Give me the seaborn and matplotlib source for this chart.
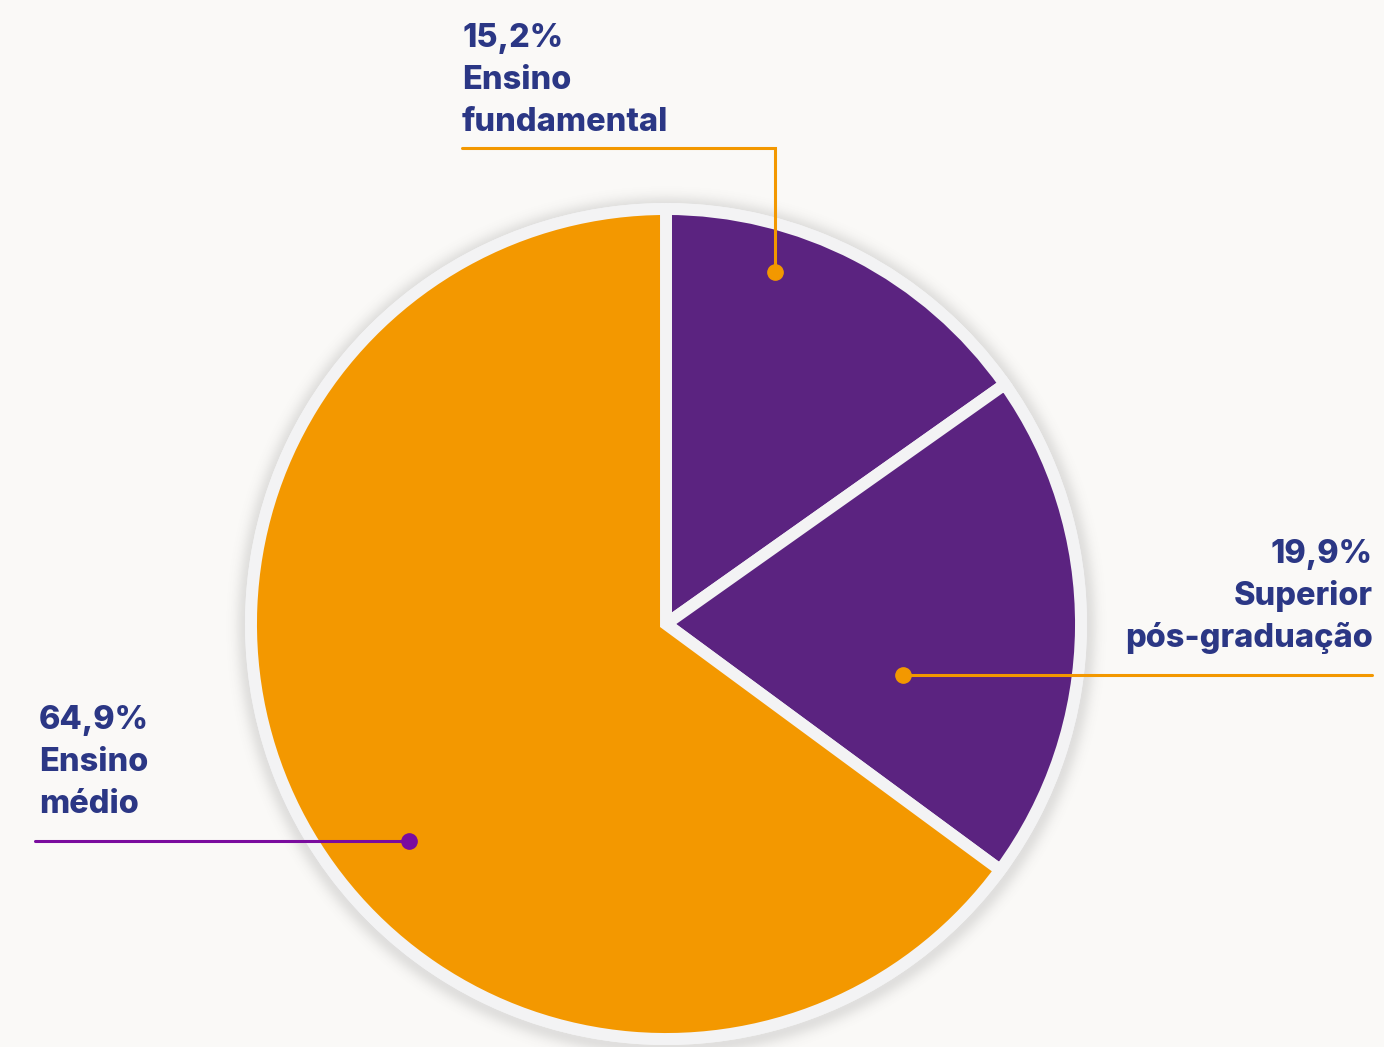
import numpy as np
import matplotlib
matplotlib.use("Agg")
import matplotlib.pyplot as plt
import seaborn as sns
from matplotlib.patches import Circle

# Escolaridade
categories = ["Ensino\nfundamental", "Superior\npós-graduação", "Ensino\nmédio"]
shares = [15.2, 19.9, 64.9]
pct_labels = ["15,2%", "19,9%", "64,9%"]

PURPLE = "#5B2380"
ORANGE = "#F39800"
NAVY = "#2B3785"
RING = "#F3F3F4"
BG = "#FAF9F7"
LINE_PURPLE = "#7A0C9E"

sns.set_theme(style="white")
plt.rcParams["font.family"] = ["Inter", "DejaVu Sans"]

W, H = 1384, 1047
fig = plt.figure(figsize=(W / 100, H / 100), dpi=100, facecolor=BG)
ax = fig.add_axes([0, 0, 1, 1])
ax.set_xlim(0, W)
ax.set_ylim(0, H)
ax.set_aspect("equal")
ax.axis("off")
ax.set_facecolor(BG)

cx, cy = 666, H - 624
R = 415

# soft drop shadow around the disc
yy, xx = np.mgrid[0:H, 0:W]
d = np.hypot(xx - cx, (H - yy) - (cy - 2))
shadow_alpha = np.where(d > R - 5, 0.16 * np.exp(-((d - (R + 6)) / 10.0) ** 2), 0.0)
shadow = np.zeros((H, W, 4))
shadow[..., :3] = 0.35
shadow[..., 3] = shadow_alpha
ax.imshow(shadow, extent=[0, W, 0, H], origin="upper", zorder=0, interpolation="bilinear")

# light outer ring
ax.add_patch(Circle((cx, cy), R + 6, facecolor=RING, edgecolor="none", zorder=1))

colors = [PURPLE, PURPLE, ORANGE]
wedges, _ = ax.pie(
    shares,
    colors=colors,
    startangle=90,
    counterclock=False,
    center=(cx, cy),
    radius=R,
    wedgeprops=dict(edgecolor=RING, linewidth=8.6),
    frame=True,
)
for w in wedges:
    w.set_zorder(2)
ax.set_xlim(0, W)
ax.set_ylim(0, H)
ax.axis("off")

fs = 23.4
lh = 42

def label(x, y_top, lines, ha):
    for i, t in enumerate(lines):
        ax.text(x, H - (y_top + i * lh), t, ha=ha, va="baseline", fontsize=fs,
                fontweight="heavy", color=NAVY, zorder=5)

# Ensino fundamental
label(462, 47, [pct_labels[0]] + categories[0].split("\n"), "left")
ax.plot([462, 775, 775], [H - 148, H - 148, H - 272], color=ORANGE, lw=2.2,
        solid_joinstyle="miter", zorder=4)
ax.plot([775], [H - 272], "o", ms=11, color=ORANGE, zorder=4)

# Superior pós-graduação
label(1373, 563, [pct_labels[1]] + categories[1].split("\n"), "right")
ax.plot([903, 1372], [H - 675, H - 675], color=ORANGE, lw=2.2, zorder=4)
ax.plot([903], [H - 675], "o", ms=11, color=ORANGE, zorder=4)

# Ensino médio
label(39, 729, [pct_labels[2]] + categories[2].split("\n"), "left")
ax.plot([35, 409], [H - 841, H - 841], color=LINE_PURPLE, lw=2.2, zorder=4)
ax.plot([409], [H - 841], "o", ms=11, color=LINE_PURPLE, zorder=4)

fig.savefig("out.png", dpi=100, facecolor=BG)
